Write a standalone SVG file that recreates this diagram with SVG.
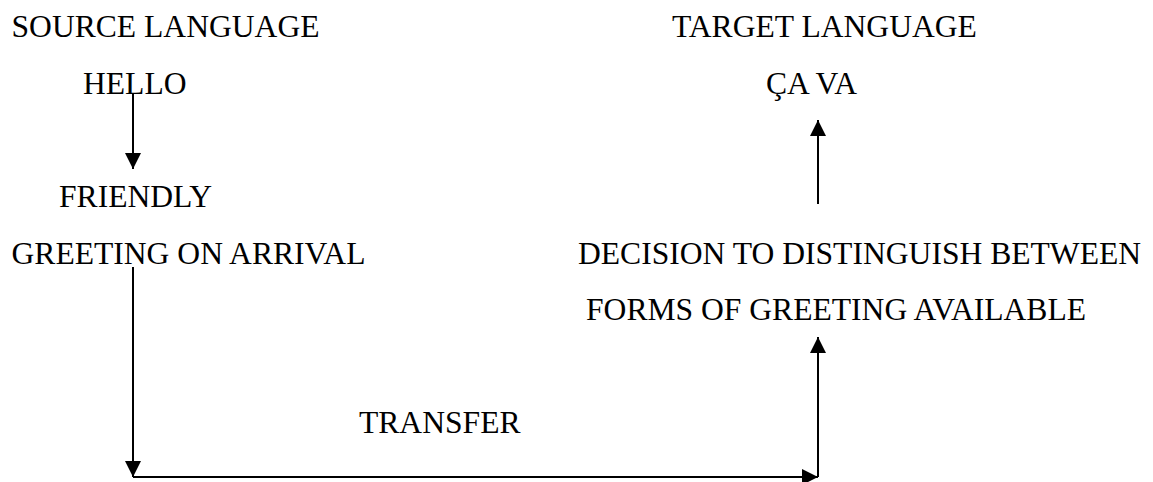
<svg xmlns="http://www.w3.org/2000/svg" width="1153" height="482" viewBox="0 0 1153 482">
<style>
.t{font-family:'Liberation Serif','Times New Roman','DejaVu Serif',serif;font-size:31.6px;fill:#000}
.c{stroke:#000;stroke-width:2;fill:none}
</style>
<defs>
<marker id="ah" viewBox="0 0 16 16" refX="16" refY="8" markerWidth="16" markerHeight="16" markerUnits="userSpaceOnUse" orient="auto">
<path d="M0,0 L16,8 L0,16 Z" fill="#000"/>
</marker>
</defs>
<rect width="1153" height="482" fill="#fff"/>
<g id="source-language"><text class="t" x="11.5" y="36.5">SOURCE LANGUAGE</text></g>
<g id="target-language"><text class="t" x="672" y="36.5">TARGET LANGUAGE</text></g>
<g id="hello"><text class="t" x="83" y="94">HELLO</text></g>
<g id="ca-va"><text class="t" x="766" y="94">ÇA VA</text></g>
<g id="meaning"><text class="t" x="59" y="207">FRIENDLY</text><text class="t" x="11.5" y="263.5">GREETING ON ARRIVAL</text></g>
<g id="decision"><text class="t" x="578" y="263.5">DECISION TO DISTINGUISH BETWEEN</text><text class="t" x="586" y="320">FORMS OF GREETING AVAILABLE</text></g>
<g id="transfer"><text class="t" x="359" y="433">TRANSFER</text></g>
<g id="connectors">
<line class="c" x1="133" y1="94" x2="133" y2="169" marker-end="url(#ah)"/>
<line class="c" x1="133" y1="267" x2="133" y2="477" marker-end="url(#ah)"/>
<line class="c" x1="133" y1="477" x2="818" y2="477" marker-end="url(#ah)"/>
<line class="c" x1="818" y1="477" x2="818" y2="337" marker-end="url(#ah)"/>
<line class="c" x1="818" y1="204" x2="818" y2="120" marker-end="url(#ah)"/>
</g>
</svg>
